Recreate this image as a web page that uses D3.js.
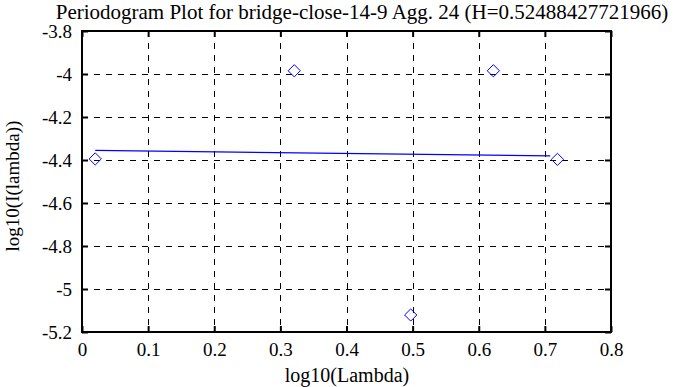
<!DOCTYPE html>
<html><head><meta charset="utf-8">
<script src="https://cdn.jsdelivr.net/npm/d3@7"></script>
<style>body{margin:0;background:#fff}svg{display:block}</style>
</head><body><svg id="c" width="688" height="387"></svg>
<script>
const title = "Periodogram Plot for bridge-close-14-9 Agg. 24 (H=0.52488427721966)";
const xLabel = "log10(Lambda)";
const yLabel = "log10(I(lambda))";
const xTicks = [0, 0.1, 0.2, 0.3, 0.4, 0.5, 0.6, 0.7, 0.8];
const yTicks = [-3.8, -4, -4.2, -4.4, -4.6, -4.8, -5, -5.2];
const pointsX = [0.0200, 0.3210, 0.4971, 0.6221, 0.7190];
const pointsY = [-4.395, -3.985, -5.121, -3.985, -4.397];
const fitX = [0.0200, 0.708];
const fitY = [-4.355, -4.381];

const FONT = "Liberation Serif";
const svg = d3.select("#c");
const L = 82, R = 611, T = 31, B = 332;
const x = d3.scaleLinear().domain([0, 0.8]).range([L, R]);
const y = d3.scaleLinear().domain([-5.2, -3.8]).range([B, T]);

// grid
const g = svg.append("g");
g.selectAll("line.vx").data(xTicks.slice(1, -1)).join("line")
  .attr("x1", d => Math.round(x(d)) + 0.5).attr("x2", d => Math.round(x(d)) + 0.5)
  .attr("y1", T).attr("y2", B).attr("stroke", "#000").attr("stroke-width", 1).attr("stroke-dasharray", "6,6");
g.selectAll("line.hy").data(yTicks.slice(1, -1)).join("line")
  .attr("y1", d => Math.round(y(d)) + 0.5).attr("y2", d => Math.round(y(d)) + 0.5)
  .attr("x1", L).attr("x2", R).attr("stroke", "#000").attr("stroke-width", 1).attr("stroke-dasharray", "6,6");

const tf = d => String(+d.toFixed(1));
const ax = svg.append("g").attr("transform", `translate(0,${B})`)
  .call(d3.axisBottom(x).tickValues(xTicks).tickSizeInner(-6).tickSizeOuter(0).tickPadding(11).tickFormat(tf));
const axT = svg.append("g").attr("transform", `translate(0,${T})`)
  .call(d3.axisTop(x).tickValues(xTicks).tickSizeInner(-6).tickSizeOuter(0).tickFormat(""));
const ay = svg.append("g").attr("transform", `translate(${L},0)`)
  .call(d3.axisLeft(y).tickValues(yTicks).tickSizeInner(-6).tickSizeOuter(0).tickPadding(10).tickFormat(tf));
const ayR = svg.append("g").attr("transform", `translate(${R},0)`)
  .call(d3.axisRight(y).tickValues(yTicks).tickSizeInner(-6).tickSizeOuter(0).tickFormat(""));
[ax, axT, ay, ayR].forEach(a => {
  a.attr("font-family", FONT).attr("font-size", 19);
  a.select(".domain").remove();
  a.selectAll(".tick line").attr("stroke", "#000").attr("stroke-width", 2);
  a.selectAll("text").attr("fill", "#000");
});
svg.append("rect").attr("x", L).attr("y", T).attr("width", R - L).attr("height", B - T)
  .attr("fill", "none").attr("stroke", "#000").attr("stroke-width", 2);

// fit line
svg.append("path").datum(fitX.map((v, i) => [v, fitY[i]]))
  .attr("d", d3.line().x(d => x(d[0])).y(d => y(d[1])))
  .attr("stroke", "#0000ff").attr("stroke-width", 1.2).attr("fill", "none");

// points (diamonds)
const sym = d3.symbol().type(d3.symbolDiamond2).size(95);
svg.selectAll("path.pt").data(pointsX.map((v, i) => [v, pointsY[i]])).join("path")
  .attr("class", "pt")
  .attr("transform", d => `translate(${x(d[0])},${y(d[1])})`)
  .attr("d", sym).attr("fill", "none").attr("stroke", "#0000ff").attr("stroke-width", 1);

// labels
svg.append("text").attr("x", 362).attr("y", 19).attr("text-anchor", "middle")
  .attr("font-family", FONT).attr("font-size", 21).attr("fill", "#000").text(title);
svg.append("text").attr("x", 347).attr("y", 382).attr("text-anchor", "middle")
  .attr("font-family", FONT).attr("font-size", 20).attr("fill", "#000").text(xLabel);
svg.append("text").attr("transform", "translate(19,186) rotate(-90)").attr("text-anchor", "middle")
  .attr("font-family", FONT).attr("font-size", 19).attr("fill", "#000").text(yLabel);
</script></body></html>
